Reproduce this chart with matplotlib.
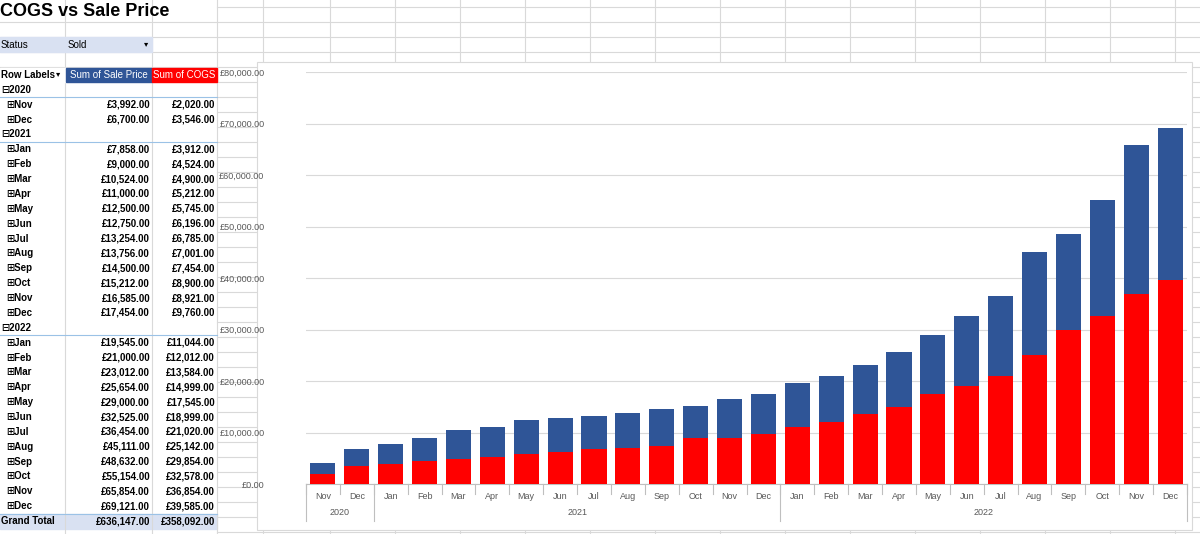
import matplotlib
matplotlib.use('Agg')
import matplotlib.pyplot as plt
from matplotlib.patches import Rectangle
from matplotlib.transforms import blended_transform_factory

plt.rcParams['font.family'] = ['Liberation Sans', 'DejaVu Sans']

months = ['Nov', 'Dec', 'Jan', 'Feb', 'Mar', 'Apr', 'May', 'Jun', 'Jul', 'Aug', 'Sep', 'Oct', 'Nov', 'Dec',
          'Jan', 'Feb', 'Mar', 'Apr', 'May', 'Jun', 'Jul', 'Aug', 'Sep', 'Oct', 'Nov', 'Dec']
years = ['2020'] * 2 + ['2021'] * 12 + ['2022'] * 12
sale = [3992, 6700, 7858, 9000, 10524, 11000, 12500, 12750, 13254, 13756, 14500, 15212, 16585, 17454,
        19545, 21000, 23012, 25654, 29000, 32525, 36454, 45111, 48632, 55154, 65854, 69121]
cogs = [2020, 3546, 3912, 4524, 4900, 5212, 5745, 6196, 6785, 7001, 7454, 8900, 8921, 9760,
        11044, 12012, 13584, 14999, 17545, 18999, 21020, 25142, 29854, 32578, 36854, 39585]

BLUE = '#2F5597'
RED = '#FF0000'

fig = plt.figure(figsize=(12, 5.34), dpi=100)

# background sheet, pixel coordinates
bg = fig.add_axes([0, 0, 1, 1])
bg.set_xlim(0, 1200); bg.set_ylim(534, 0); bg.axis('off')
grid_c = '#D9D9D9'
for x in [65, 152, 217, 263, 330, 395, 460, 525, 590, 655, 720, 785, 850, 915, 980, 1045, 1110, 1175]:
    bg.plot([x, x], [0, 534], color=grid_c, lw=0.8)
for y in range(7, 534, 15):
    bg.plot([217, 1200], [y, y], color=grid_c, lw=0.8)
for y in [22, 37, 52, 67]:
    bg.plot([0, 217], [y, y], color=grid_c, lw=0.8)

bg.text(0, 11, 'COGS vs Sale Price', fontsize=13, fontweight='bold', va='center')
bg.add_patch(Rectangle((0, 37), 152, 15, color='#D9E1F2', zorder=2))
bg.text(1, 45, 'Status', fontsize=7, va='center', zorder=3)
bg.text(68, 45, 'Sold', fontsize=7, va='center', zorder=3)
bg.text(146, 45, '▾', fontsize=6, va='center', ha='center', zorder=3)

# pivot table
step = 14.87
y0 = 75
bg.add_patch(Rectangle((0, y0 - 7), 217, 14, color='white', zorder=2))
bg.add_patch(Rectangle((66, y0 - 7), 86, 14, color=BLUE, zorder=2))
bg.add_patch(Rectangle((152, y0 - 7), 65, 14, color=RED, zorder=2))
bg.text(1, y0, 'Row Labels', fontsize=7, fontweight='bold', va='center', zorder=3)
bg.text(58, y0, '▾', fontsize=6, va='center', ha='center', zorder=3)
bg.text(109, y0, 'Sum of Sale Price', fontsize=7, color='white', va='center', ha='center', zorder=3)
bg.text(184, y0, 'Sum of COGS', fontsize=7, color='white', va='center', ha='center', zorder=3)

rows = []
for yr in ['2020', '2021', '2022']:
    rows.append(('year', yr, None, None))
    for m, yy, s, c in zip(months, years, sale, cogs):
        if yy == yr:
            rows.append(('month', m, s, c))
rows.append(('total', 'Grand Total', sum(sale), sum(cogs)))

for i, (kind, lab, s, c) in enumerate(rows):
    y = y0 + (i + 1) * step
    bg.add_patch(Rectangle((0, y - step / 2), 217, step,
                           color='#D9E1F2' if kind == 'total' else 'white', zorder=1))
    if kind == 'year':
        bg.text(1, y, '⊟' + lab, fontsize=7, fontweight='bold', va='center')
        bg.plot([0, 217], [y + step / 2, y + step / 2], color='#9BC2E6', lw=0.8)
    elif kind == 'month':
        bg.text(6, y, '⊞' + lab, fontsize=7, fontweight='bold', va='center')
    else:
        bg.plot([0, 217], [y - step / 2, y - step / 2], color='#9BC2E6', lw=0.8)
        bg.text(1, y, lab, fontsize=7, fontweight='bold', va='center')
    if s is not None:
        bg.text(150, y, f'£{s:,.2f}', fontsize=7, fontweight='bold', va='center', ha='right')
        bg.text(215, y, f'£{c:,.2f}', fontsize=7, fontweight='bold', va='center', ha='right')

# chart area
bg.add_patch(Rectangle((257, 62), 935, 468, facecolor='white', edgecolor='#D9D9D9', lw=0.8, zorder=4))

ax = fig.add_axes([306 / 1200, 50 / 534, 881 / 1200, 412 / 534])
ax.set_zorder(5)
x = range(len(months))
ax.bar(x, sale, width=0.74, color=BLUE, zorder=2)
ax.bar(x, cogs, width=0.74, color=RED, zorder=3)
ax.set_xlim(-0.5, len(months) - 0.5)
ax.set_ylim(0, 80000)
ax.set_yticks(range(0, 80001, 10000))
ax.set_yticklabels([f'£{v:,.2f}' for v in range(0, 80001, 10000)], fontsize=6.5, color='#595959')
ax.yaxis.grid(True, color='#D9D9D9', lw=0.8)
ax.set_axisbelow(True)
for sp in ['top', 'right', 'left']:
    ax.spines[sp].set_visible(False)
ax.spines['bottom'].set_color('#BFBFBF')
ax.tick_params(axis='y', length=0, pad=30)
ax.tick_params(axis='x', length=0, pad=6)
ax.set_xticks(list(x))
ax.set_xticklabels(months, fontsize=6.5, color='#595959')

tr = blended_transform_factory(ax.transData, ax.transAxes)
for b in [i - 0.5 for i in range(len(months) + 1)]:
    ax.plot([b, b], [0, -0.025], color='#BFBFBF', lw=0.8, transform=tr, clip_on=False)
bounds = [-0.5]
for i in range(1, len(years)):
    if years[i] != years[i - 1]:
        bounds.append(i - 0.5)
bounds.append(len(years) - 0.5)
for b in bounds:
    ax.plot([b, b], [0, -0.09], color='#BFBFBF', lw=0.8, transform=tr, clip_on=False)
for a, b in zip(bounds[:-1], bounds[1:]):
    ax.text((a + b) / 2, -0.068, years[int(a + 0.5)], fontsize=6.5, color='#595959',
            ha='center', va='center', transform=tr)

fig.savefig('out.png', dpi=100)
